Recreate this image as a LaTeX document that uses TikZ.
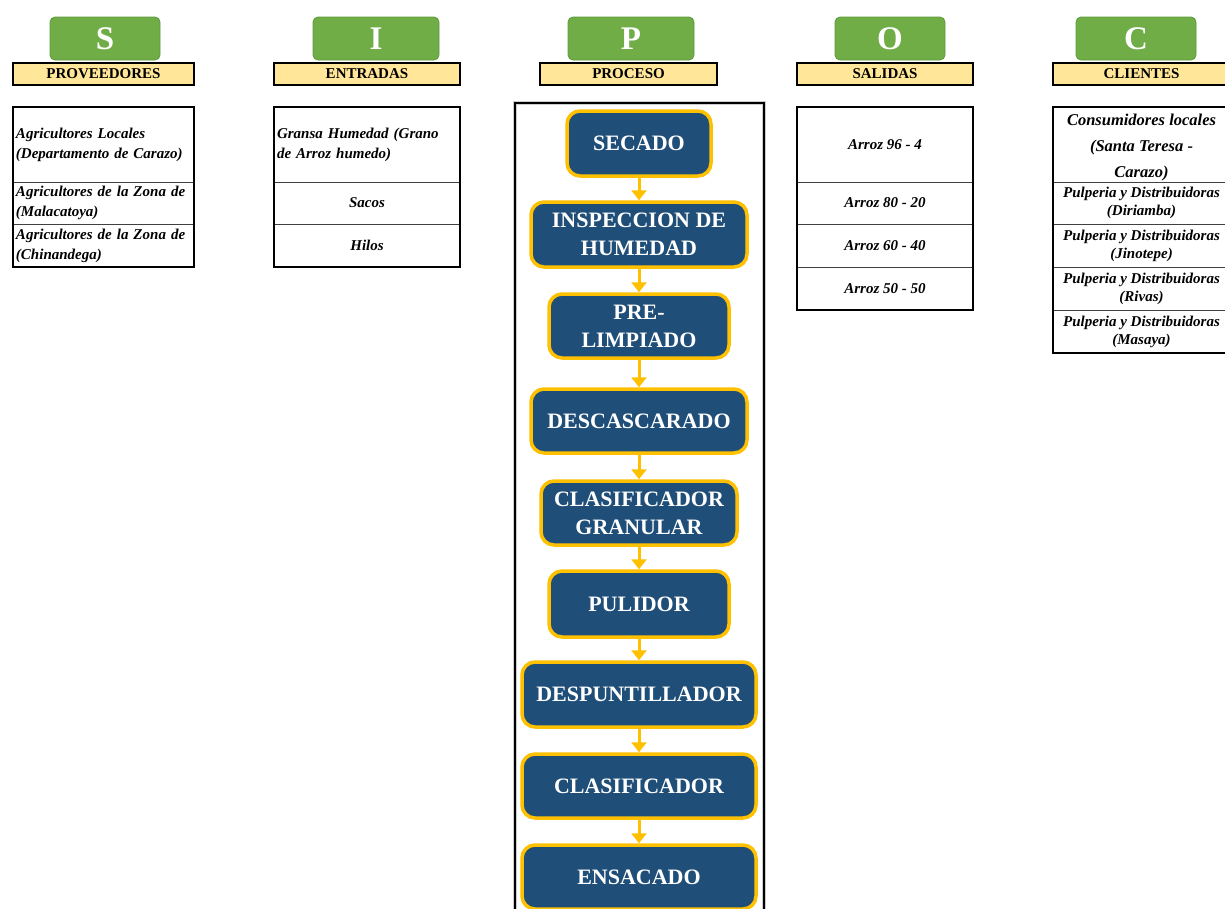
\documentclass[tikz,border=0pt]{standalone}
\usepackage{fontspec}
\setmainfont{Liberation Serif}
\usetikzlibrary{arrows.meta}
\definecolor{hgreen}{HTML}{70AD47}
\definecolor{hgreenb}{HTML}{5B9A3C}
\definecolor{hyellow}{HTML}{FFE699}
\definecolor{pblue}{HTML}{1F4E79}
\definecolor{pgold}{HTML}{FFC000}
\definecolor{gridc}{HTML}{404040}
\tikzset{
  letterbox/.style={rounded corners=5pt, fill=hgreen, draw=hgreenb, line width=0.8pt,
    text=white, font=\bfseries\fontsize{33}{33}\selectfont, minimum height=43pt, inner sep=0pt},
  bar/.style={fill=hyellow, draw=black, line width=2pt, minimum height=22pt, inner sep=0pt,
    font=\bfseries\fontsize{15}{15}\selectfont},
  cell/.style={draw=gridc, line width=1pt, inner sep=2pt, font=\bfseries\itshape\fontsize{15}{20}\selectfont},
  lcell/.style={cell, align=left, text width=#1},
  ccell/.style={cell, align=center},
  frame/.style={draw=black, line width=2pt},
  pstep/.style={rounded corners=13pt, fill=pblue, draw=pgold, line width=3.5pt, text=white,
    align=center, inner sep=0pt, font=\bfseries\fontsize{22}{28}\selectfont},
  arr/.style={draw=pgold, line width=3pt, -{Triangle[length=10pt,width=15pt]}},
}
\begin{document}
\begin{tikzpicture}[x=1pt,y=-1pt]
\useasboundingbox (0,0) rectangle (1225,908);
\clip (0,0) rectangle (1225,908);
\fill[white] (0,0) rectangle (1225,908);

% letter headers
\node[letterbox, minimum width=110pt] (hS) at (105,38.5) {S};
\node[letterbox, minimum width=126pt] (hI) at (376,38.5) {I};
\node[letterbox, minimum width=126pt] (hP) at (631,38.5) {P};
\node[letterbox, minimum width=110pt] (hO) at (890,38.5) {O};
\node[letterbox, minimum width=120pt] (hC) at (1136,38.5) {C};

% yellow bars
\node[bar, minimum width=181pt] (bS) at (103.5,74) {PROVEEDORES};
\node[bar, minimum width=186pt] (bI) at (367,74) {ENTRADAS};
\node[bar, minimum width=177pt] (bP) at (628.5,74) {PROCESO};
\node[bar, minimum width=176pt] (bO) at (885,74) {SALIDAS};
\node[bar, minimum width=177pt] (bC) at (1141.5,74) {CLIENTES};

% Proveedores table
\node[lcell=175pt, minimum width=181pt, minimum height=75pt] (s1) at (103.5,144.5)
  {Agricultores Locales\\(Departamento de Carazo)};
\node[lcell=175pt, minimum width=181pt, minimum height=42pt] (s2) at (103.5,203)
  {Agricultores de la Zona de\\(Malacatoya)};
\node[lcell=175pt, minimum width=181pt, minimum height=43pt] (s3) at (103.5,245.5)
  {Agricultores de la Zona de\\(Chinandega)};
\draw[frame] (13,107) rectangle (194,267);

% Entradas table
\node[lcell=180pt, minimum width=186pt, minimum height=75pt] (i1) at (367,144.5)
  {Gransa Humedad (Grano\\de Arroz humedo)};
\node[ccell, minimum width=186pt, minimum height=42pt] (i2) at (367,203) {Sacos};
\node[ccell, minimum width=186pt, minimum height=43pt] (i3) at (367,245.5) {Hilos};
\draw[frame] (274,107) rectangle (460,267);

% Salidas table
\node[ccell, minimum width=176pt, minimum height=75pt] (o1) at (885,144.5) {Arroz 96 - 4};
\node[ccell, minimum width=176pt, minimum height=42pt] (o2) at (885,203) {Arroz 80 - 20};
\node[ccell, minimum width=176pt, minimum height=43pt] (o3) at (885,245.5) {Arroz 60 - 40};
\node[ccell, minimum width=176pt, minimum height=43pt] (o4) at (885,288.5) {Arroz 50 - 50};
\draw[frame] (797,107) rectangle (973,310);

% Clientes table
\node[ccell, minimum width=177pt, minimum height=75pt] (c1) at (1141.5,144.5) {};
\node[align=center, inner sep=0pt, font=\bfseries\itshape\fontsize{16.5}{26}\selectfont] (c1t) at (1141.5,147.5)
  {Consumidores locales\\(Santa Teresa -\\Carazo)};
\node[ccell, minimum width=177pt, minimum height=42pt, font=\bfseries\itshape\fontsize{15}{18}\selectfont] (c2) at (1141.5,203)
  {Pulperia y Distribuidoras\\(Diriamba)};
\node[ccell, minimum width=177pt, minimum height=43pt, font=\bfseries\itshape\fontsize{15}{18}\selectfont] (c3) at (1141.5,245.5)
  {Pulperia y Distribuidoras\\(Jinotepe)};
\node[ccell, minimum width=177pt, minimum height=43pt, font=\bfseries\itshape\fontsize{15}{18}\selectfont] (c4) at (1141.5,288.5)
  {Pulperia y Distribuidoras\\(Rivas)};
\node[ccell, minimum width=177pt, minimum height=43pt, font=\bfseries\itshape\fontsize{15}{18}\selectfont] (c5) at (1141.5,331.5)
  {Pulperia y Distribuidoras\\(Masaya)};
\draw[frame] (1053,107) rectangle (1230,353);

% Process frame
\draw[gray!40, line width=4pt] (515,103) rectangle (764,920);
\draw[frame] (515,103) rectangle (764,920);

% Process steps
\node[pstep, minimum width=144pt, minimum height=65pt] (p1) at (639,143.5) {SECADO};
\node[pstep, minimum width=216pt, minimum height=65pt] (p2) at (639,234.5) {INSPECCION DE\\HUMEDAD};
\node[pstep, minimum width=180pt, minimum height=64pt] (p3) at (639,326) {PRE-\\LIMPIADO};
\node[pstep, minimum width=216pt, minimum height=64pt] (p4) at (639,421) {DESCASCARADO};
\node[pstep, minimum width=196pt, minimum height=64pt] (p5) at (639,513) {CLASIFICADOR\\GRANULAR};
\node[pstep, minimum width=180pt, minimum height=66pt] (p6) at (639,604) {PULIDOR};
\node[pstep, minimum width=234pt, minimum height=65pt] (p7) at (639,694.5) {DESPUNTILLADOR};
\node[pstep, minimum width=234pt, minimum height=64pt] (p8) at (639,786) {CLASIFICADOR};
\node[pstep, minimum width=234pt, minimum height=64pt] (p9) at (639,877) {ENSACADO};

\draw[arr] (p1) -- (p2);
\draw[arr] (p2) -- (p3);
\draw[arr] (p3) -- (p4);
\draw[arr] (p4) -- (p5);
\draw[arr] (p5) -- (p6);
\draw[arr] (p6) -- (p7);
\draw[arr] (p7) -- (p8);
\draw[arr] (p8) -- (p9);
\end{tikzpicture}
\end{document}
